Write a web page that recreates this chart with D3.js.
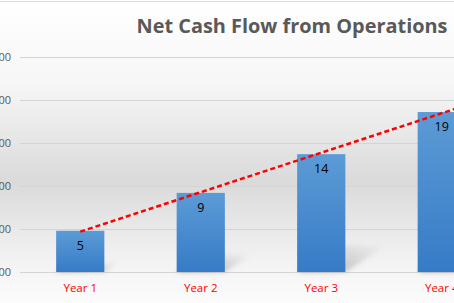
<!DOCTYPE html>
<html>
<head>
<meta charset="utf-8">
<script src="https://cdn.jsdelivr.net/npm/d3@7"></script>
<style>
  html, body { margin: 0; padding: 0; background: #fff; overflow: hidden; }
</style>
</head>
<body>
<div id="chart"></div>
<script>
// Data
const years = ["Year 1", "Year 2", "Year 3", "Year 4"];
const cashFlow = [4.8, 9.2, 13.7, 18.6];
const yTicks = [0, 5, 10, 15, 20, 25];

const width = 454;
const height = 303;
const plot = {left: 20, right: 502, top: 57, bottom: 272};

const svg = d3.select("#chart")
  .append("svg")
  .attr("width", width)
  .attr("height", height);

const defs = svg.append("defs");

// Background gradient (Excel style)
const bg = defs.append("linearGradient")
  .attr("id", "bg")
  .attr("x1", 0).attr("y1", 0).attr("x2", 0).attr("y2", 1);
[[0, "#ffffff"], [0.28, "#f6f6f6"], [0.6, "#dadada"], [0.8, "#ededed"], [0.92, "#f7f7f7"], [1, "#fbfbfb"]]
  .forEach(s => bg.append("stop").attr("offset", s[0]).attr("stop-color", s[1]));

const barGrad = defs.append("linearGradient")
  .attr("id", "barGrad")
  .attr("x1", 0).attr("y1", 0).attr("x2", 0).attr("y2", 1);
barGrad.append("stop").attr("offset", 0).attr("stop-color", "#5c9bd6");
barGrad.append("stop").attr("offset", 1).attr("stop-color", "#367bc6");

const shadowGrad = defs.append("linearGradient")
  .attr("id", "shadowGrad")
  .attr("x1", 0).attr("y1", 1).attr("x2", 1).attr("y2", 0);
shadowGrad.append("stop").attr("offset", 0).attr("stop-color", "#777").attr("stop-opacity", 0.6);
shadowGrad.append("stop").attr("offset", 1).attr("stop-color", "#999").attr("stop-opacity", 0);

defs.append("filter")
  .attr("id", "blur")
  .attr("x", "-50%").attr("y", "-50%").attr("width", "200%").attr("height", "200%")
  .append("feGaussianBlur")
  .attr("stdDeviation", 2.5);

svg.append("rect")
  .attr("width", width)
  .attr("height", height)
  .attr("fill", "url(#bg)");

// chart border on top
svg.append("line")
  .attr("x1", 0).attr("x2", width)
  .attr("y1", 1.5).attr("y2", 1.5)
  .attr("stroke", "#d9d9d9");

// Scales
const x = d3.scaleBand()
  .domain(years)
  .range([plot.left, plot.right])
  .paddingInner(0.6)
  .paddingOuter(0.3);

const y = d3.scaleLinear()
  .domain([0, 25])
  .range([plot.bottom, plot.top]);

// Gridlines
svg.append("g")
  .selectAll("line")
  .data(yTicks)
  .enter()
  .append("line")
  .attr("x1", plot.left)
  .attr("x2", width)
  .attr("y1", d => Math.round(y(d)) + 0.5)
  .attr("y2", d => Math.round(y(d)) + 0.5)
  .attr("stroke", "#d4d4d4");

// Y axis labels (cut off at the left edge, as in the original crop)
svg.append("g")
  .selectAll("text")
  .data(yTicks)
  .enter()
  .append("text")
  .attr("x", 11)
  .attr("y", d => y(d) + 4)
  .attr("text-anchor", "end")
  .style("font-family", "Open Sans, sans-serif")
  .style("font-size", "11px")
  .attr("fill", "#595959")
  .text(d => d3.format(".2f")(d));

// Bar shadows
svg.append("g")
  .selectAll("path")
  .data(cashFlow)
  .enter()
  .append("path")
  .attr("d", (d, i) => {
    const xl = x(years[i]);
    const xr = xl + x.bandwidth();
    const h = plot.bottom - y(d);
    const dx = h * 0.35, dy = h * 0.23;
    return `M${xl},${plot.bottom}L${xr},${plot.bottom}L${xr + dx},${plot.bottom - dy}L${xl + dx},${plot.bottom - dy}Z`;
  })
  .attr("fill", "url(#shadowGrad)")
  .attr("filter", "url(#blur)");

// Bars
svg.append("g")
  .selectAll("rect")
  .data(cashFlow)
  .enter()
  .append("rect")
  .attr("x", (d, i) => x(years[i]))
  .attr("y", d => y(d))
  .attr("width", x.bandwidth())
  .attr("height", d => plot.bottom - y(d))
  .attr("fill", "url(#barGrad)");

// Data labels
svg.append("g")
  .selectAll("text")
  .data(cashFlow)
  .enter()
  .append("text")
  .attr("x", (d, i) => x(years[i]) + x.bandwidth() / 2)
  .attr("y", d => y(d) + 19)
  .attr("text-anchor", "middle")
  .style("font-family", "Open Sans, sans-serif")
  .style("font-size", "12.5px")
  .attr("fill", "#000")
  .text(d => d3.format(".0f")(d));

// Linear trendline (least squares over the bars)
const n = cashFlow.length;
const xs = d3.range(1, n + 1);
const mx = d3.mean(xs), my = d3.mean(cashFlow);
const slope = d3.sum(xs, (v, i) => (v - mx) * (cashFlow[i] - my)) / d3.sum(xs, v => (v - mx) * (v - mx));
const intercept = my - slope * mx;

const xIdx = d3.scaleLinear()
  .domain([1, 2])
  .range([x(years[0]) + x.bandwidth() / 2, x(years[1]) + x.bandwidth() / 2]);

const trend = [1, 4.5].map(t => [xIdx(t), y(intercept + slope * t)]);

svg.append("path")
  .datum(trend)
  .attr("d", d3.line())
  .attr("fill", "none")
  .attr("stroke", "#ff0000")
  .attr("stroke-width", 2.5)
  .attr("stroke-dasharray", "5,3");

// Category labels
svg.append("g")
  .selectAll("text")
  .data(years)
  .enter()
  .append("text")
  .attr("x", d => x(d) + x.bandwidth() / 2)
  .attr("y", 292)
  .attr("text-anchor", "middle")
  .style("font-family", "Open Sans, sans-serif")
  .style("font-size", "11.5px")
  .attr("fill", "#ff0000")
  .text(d => d);

// Title
svg.append("text")
  .attr("x", 292)
  .attr("y", 33)
  .attr("text-anchor", "middle")
  .style("font-family", "Open Sans, sans-serif")
  .style("font-size", "19.9px")
  .style("font-weight", "bold")
  .attr("fill", "#595959")
  .text("Net Cash Flow from Operations");
</script>
</body>
</html>
